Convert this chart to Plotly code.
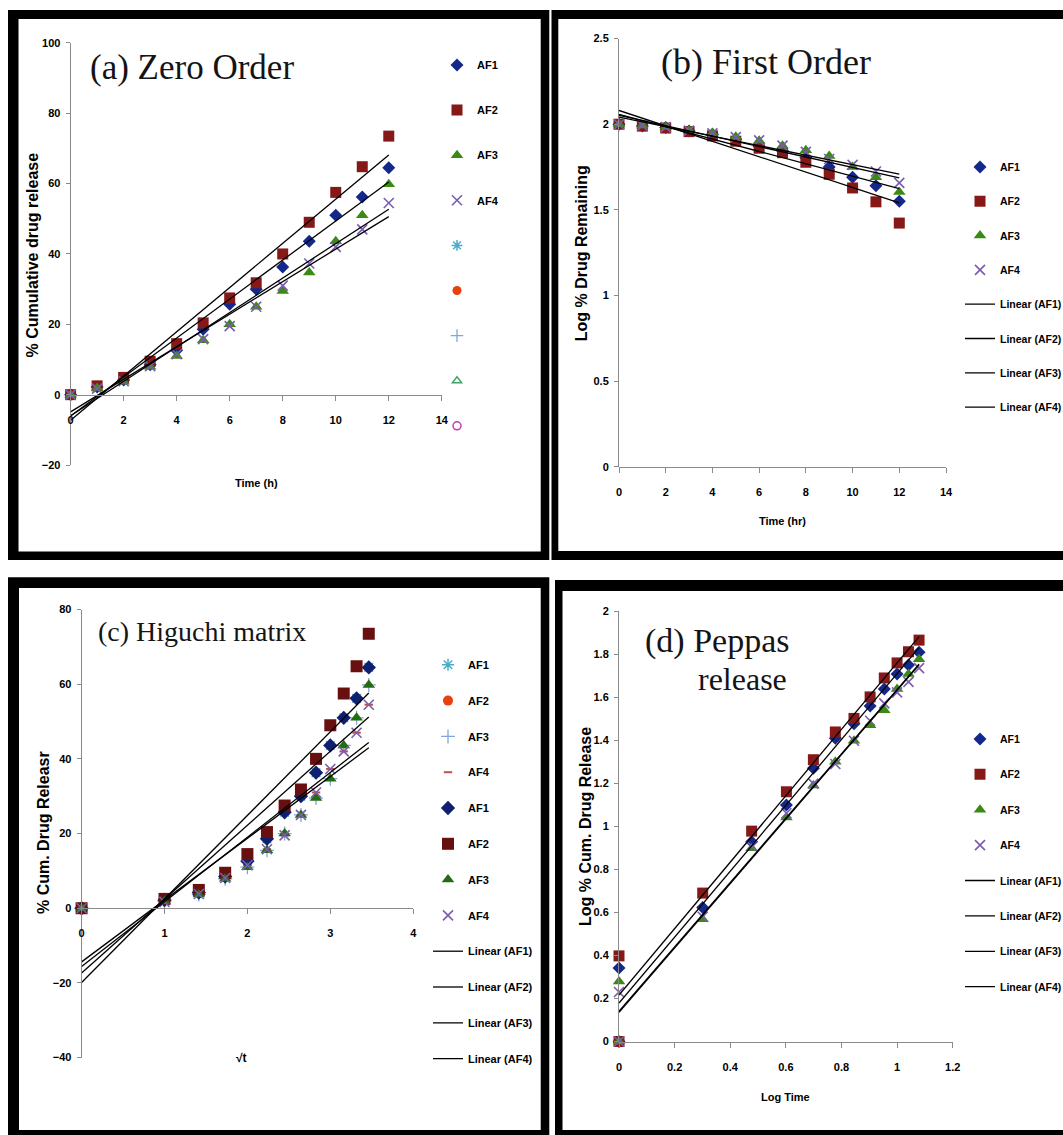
import numpy as np
import plotly.graph_objects as go

W, H = 1063, 1135

# ---------------- data ----------------
formulations = ["AF1", "AF2", "AF3", "AF4"]

time_h = [0, 1, 2, 3, 4, 5, 6, 7, 8, 9, 10, 11, 12]
sqrt_time = [0, 1, 1.414, 1.732, 2, 2.236, 2.449, 2.646, 2.828, 3, 3.162, 3.317, 3.464]
log_time = [0, 0, 0.301, 0.477, 0.602, 0.699, 0.778, 0.845, 0.903, 0.954, 1.0, 1.041, 1.079]

# % cumulative drug release (zero order / Higuchi)
cum_af1 = [0, 2.2, 4.2, 8.5, 12.6, 18.6, 25.7, 30.0, 36.3, 43.6, 51.0, 56.2, 64.5]
cum_af2 = [0, 2.5, 4.9, 9.5, 14.5, 20.4, 27.5, 31.8, 40.0, 49.0, 57.5, 64.8, 73.5]
cum_af3 = [0, 1.9, 3.7, 7.9, 11.0, 15.5, 20.0, 25.0, 29.5, 34.7, 43.6, 51.0, 59.8]
cum_af4 = [0, 1.7, 3.8, 8.1, 11.5, 15.8, 19.5, 25.0, 31.0, 37.3, 42.0, 47.0, 54.5]

# log % drug remaining (first order)
logrem_af1 = [2.000, 1.990, 1.981, 1.961, 1.942, 1.911, 1.871, 1.845, 1.804, 1.751, 1.690, 1.641, 1.550]
logrem_af2 = [2.000, 1.989, 1.978, 1.957, 1.932, 1.901, 1.860, 1.834, 1.778, 1.708, 1.628, 1.547, 1.423]
logrem_af3 = [2.000, 1.992, 1.984, 1.964, 1.949, 1.927, 1.903, 1.875, 1.848, 1.815, 1.751, 1.690, 1.604]
logrem_af4 = [2.000, 1.993, 1.983, 1.963, 1.947, 1.925, 1.906, 1.875, 1.839, 1.797, 1.763, 1.724, 1.658]

# log % cumulative drug release (Peppas)
logcum_af1 = [0, 0.342, 0.623, 0.929, 1.100, 1.270, 1.410, 1.477, 1.560, 1.639, 1.708, 1.750, 1.810]
logcum_af2 = [0, 0.398, 0.690, 0.978, 1.161, 1.310, 1.439, 1.502, 1.602, 1.690, 1.760, 1.812, 1.866]
logcum_af3 = [0, 0.279, 0.568, 0.898, 1.041, 1.190, 1.301, 1.398, 1.470, 1.540, 1.639, 1.708, 1.777]
logcum_af4 = [0, 0.230, 0.580, 0.908, 1.061, 1.199, 1.290, 1.398, 1.491, 1.572, 1.623, 1.672, 1.736]

cum = [cum_af1, cum_af2, cum_af3, cum_af4]
logrem = [logrem_af1, logrem_af2, logrem_af3, logrem_af4]
logcum = [logcum_af1, logcum_af2, logcum_af3, logcum_af4]

# ---------------- styles ----------------
SANS = "Liberation Sans, Arial, sans-serif"
SERIF = "Liberation Serif, Times New Roman, serif"
AXIS_GREY = "#8a8a8a"

main_style = [
    dict(symbol="diamond", color="#14288C", size=10, lw=0),
    dict(symbol="square", color="#861818", size=11, lw=0),
    dict(symbol="triangle-up", color="#3A8A14", size=11, lw=0),
    dict(symbol="x-thin", color="#7A5DAE", size=10, lw=1.6),
]
dark_style = [
    dict(symbol="diamond", color="#0F1F72", size=11, lw=0),
    dict(symbol="square", color="#681010", size=12, lw=0),
    dict(symbol="triangle-up", color="#246C10", size=11, lw=0),
    dict(symbol="x-thin", color="#7A5DAE", size=10, lw=1.6),
]
extra_c_style = [
    dict(symbol="asterisk", color="#4BACC6", size=10, lw=1.5),
    dict(symbol="circle", color="#E8410E", size=10, lw=0),
    dict(symbol="cross-thin", color="#7EA6E0", size=10, lw=1.3),
    dict(symbol="line-ew", color="#C0504D", size=6, lw=2),
]
extra_a_style = [
    dict(symbol="asterisk", color="#4BACC6", size=9, lw=1.5),
    dict(symbol="circle", color="#E8410E", size=9, lw=0),
    dict(symbol="cross-thin", color="#7EA6E0", size=9, lw=1.3),
    dict(symbol="triangle-up-open", color="#3FA66A", size=8, lw=1.5),
    dict(symbol="circle-open", color="#C03CB4", size=8, lw=1.5),
]


def fx(px):
    return px / W


def fy(py):
    return 1 - py / H


fig = go.Figure()
gid = [0]


def add_markers(xs, ys, name, st, ax, legend):
    gid[0] += 1
    fig.add_trace(go.Scatter(
        x=xs, y=ys, mode="markers", name=name,
        xaxis="x" + ax, yaxis="y" + ax, legend=legend,
        legendgroup="g%d" % gid[0], cliponaxis=False, hoverinfo="skip",
        marker=dict(symbol=st["symbol"], size=st["size"], color=st["color"],
                    line=dict(color=st["color"], width=st["lw"])),
    ))


def add_trend(xs, ys, name, ax, legend, show):
    gid[0] += 1
    k, b = np.polyfit(np.array(xs, float), np.array(ys, float), 1)
    x0, x1 = min(xs), max(xs)
    fig.add_trace(go.Scatter(
        x=[x0, x1], y=[k * x0 + b, k * x1 + b], mode="lines", name=name,
        xaxis="x" + ax, yaxis="y" + ax, legend=legend, showlegend=show,
        legendgroup="g%d" % gid[0], cliponaxis=False, hoverinfo="skip",
        line=dict(color="black", width=1.3),
    ))


# ---- (a) zero order ----
for i, f in enumerate(formulations):
    add_markers(time_h, cum[i], f, main_style[i], "", "legend")
for st in extra_a_style:
    add_markers([None], [None], "", st, "", "legend")
for i, f in enumerate(formulations):
    add_trend(time_h, cum[i], "Linear (%s)" % f, "", "legend", False)

# ---- (b) first order ----
for i, f in enumerate(formulations):
    add_markers(time_h, logrem[i], f, main_style[i], "2", "legend2")
for i, f in enumerate(formulations):
    add_trend(time_h, logrem[i], "Linear (%s)" % f, "2", "legend2", True)

# ---- (c) Higuchi ----
for i, f in enumerate(formulations):
    add_markers(sqrt_time, cum[i], f, extra_c_style[i], "3", "legend3")
for i, f in enumerate(formulations):
    add_markers(sqrt_time, cum[i], f, dark_style[i], "3", "legend3")
for i, f in enumerate(formulations):
    add_trend(sqrt_time, cum[i], "Linear (%s)" % f, "3", "legend3", True)

# ---- (d) Peppas ----
for i, f in enumerate(formulations):
    add_markers(log_time, logcum[i], f, main_style[i], "4", "legend4")
for i, f in enumerate(formulations):
    add_trend(log_time, logcum[i], "Linear (%s)" % f, "4", "legend4", True)

# ---------------- axes ----------------
tickfont = dict(family=SANS, size=11, color="black", weight="bold")
layout_axes = {}


def axes(idx, xr, yr, xpx, ypx, xd, yd):
    sx = "" if idx == 1 else str(idx)
    ydom = [fy(ypx[1]), fy(ypx[0])]
    pos = ydom[0] + (0 - yr[0]) / (yr[1] - yr[0]) * (ydom[1] - ydom[0])
    layout_axes["xaxis" + sx] = dict(
        domain=[fx(xpx[0]), fx(xpx[1])], range=xr, anchor="free", position=pos,
        showline=True, linecolor=AXIS_GREY, linewidth=1, ticks="outside",
        ticklen=5, tickcolor=AXIS_GREY, tickwidth=1, dtick=xd, tick0=0,
        showgrid=False, zeroline=False, tickfont=tickfont, ticklabelstandoff=10,
    )
    layout_axes["yaxis" + sx] = dict(
        domain=ydom, range=yr, anchor="x" + sx,
        showline=True, linecolor=AXIS_GREY, linewidth=1, ticks="outside",
        ticklen=4, tickcolor=AXIS_GREY, tickwidth=1, dtick=yd, tick0=0,
        showgrid=False, zeroline=False, tickfont=tickfont, ticklabelstandoff=3,
    )


axes(1, [0, 14], [-20, 100], (70.6, 441.8), (42.9, 465.0), 2, 20)
axes(2, [0, 14], [0, 2.5], (619.0, 946.0), (38.6, 466.8), 2, 0.5)
axes(3, [0, 4], [-40, 80], (81.6, 413.2), (609.5, 1057.6), 1, 20)
axes(4, [0, 1.2], [0, 2], (619.0, 952.7), (611.3, 1041.5), 0.2, 0.2)


# ---------------- legends ----------------
def legend(left_px, first_item_px, gap, size=11):
    return dict(x=fx(left_px), y=fy(first_item_px - 13.5), xanchor="left", yanchor="top",
                bgcolor="rgba(0,0,0,0)", borderwidth=0,
                font=dict(family=SANS, size=size, color="black", weight="bold"),
                tracegroupgap=gap, itemclick=False, itemdoubleclick=False)


# ---------------- text ----------------
ann = []


def text(s, xp, yp, size, family=SANS, bold=True, angle=0, color="black"):
    ann.append(dict(text=s, x=fx(xp), y=fy(yp), xref="paper", yref="paper",
                    showarrow=False, xanchor="center", yanchor="middle",
                    textangle=angle,
                    font=dict(family=family, size=size, color=color,
                              weight="bold" if bold else "normal")))


text("(a) Zero Order", 191.6, 68, 35, SERIF, False, color="#141414")
text("(b) First Order", 765.9, 62.5, 36, SERIF, False, color="#141414")
text("(c) Higuchi matrix", 201.5, 631.5, 28, SERIF, False, color="#141414")
text("(d) Peppas", 716.5, 641, 34, SERIF, False, color="#141414")
text("release", 742.5, 678.5, 32, SERIF, False, color="#141414")

text("Time (h)", 256, 483, 11)
text("Time (hr)", 782, 520.7, 11)
text("\u221at", 241, 1057.6, 12)
text("Log Time", 785, 1097, 11)

text("% Cumulative drug release", 33.4, 255, 16, angle=-90)
text("Log % Drug Remaining", 581.7, 253.6, 16, angle=-90)
text("% Cum. Drug Releasr", 43, 833, 16, angle=-90)
text("Log % Cum. Drug Release", 585, 827, 16, angle=-90)

# ---------------- panel borders ----------------
shapes = []
outer = [(8, 10, 549.3, 560), (551.5, 10, 1080, 560),
         (8, 577.3, 549.3, 1150), (555, 580, 1080, 1150)]
inner = [(18.5, 19, 540.7, 551.5), (558.3, 19, 1080, 551),
         (19, 588, 540.7, 1130), (562.5, 591, 1080, 1130)]
for (x0, y0, x1, y1) in outer:
    shapes.append(dict(type="rect", xref="paper", yref="paper", layer="below",
                       x0=fx(x0), x1=fx(x1), y0=fy(y1), y1=fy(y0),
                       fillcolor="black", line=dict(width=0)))
for (x0, y0, x1, y1) in inner:
    shapes.append(dict(type="rect", xref="paper", yref="paper", layer="below",
                       x0=fx(x0), x1=fx(x1), y0=fy(y1), y1=fy(y0),
                       fillcolor="white", line=dict(width=0)))

fig.update_layout(
    width=W, height=H,
    margin=dict(l=0, r=0, t=0, b=0, pad=0, autoexpand=False),
    paper_bgcolor="white", plot_bgcolor="rgba(0,0,0,0)",
    showlegend=True,
    legend=legend(437, 64, 26.1),
    legend2=legend(960, 166, 15.3, 10.5),
    legend3=legend(428, 663.8, 16.8),
    legend4=legend(960, 737.9, 16.4, 10.5),
    annotations=ann, shapes=shapes,
    **layout_axes,
)

fig.write_html(
    "out.html",
    config={"displayModeBar": False},
    post_script="document.body.style.margin='0px';document.body.style.padding='0px';",
)
